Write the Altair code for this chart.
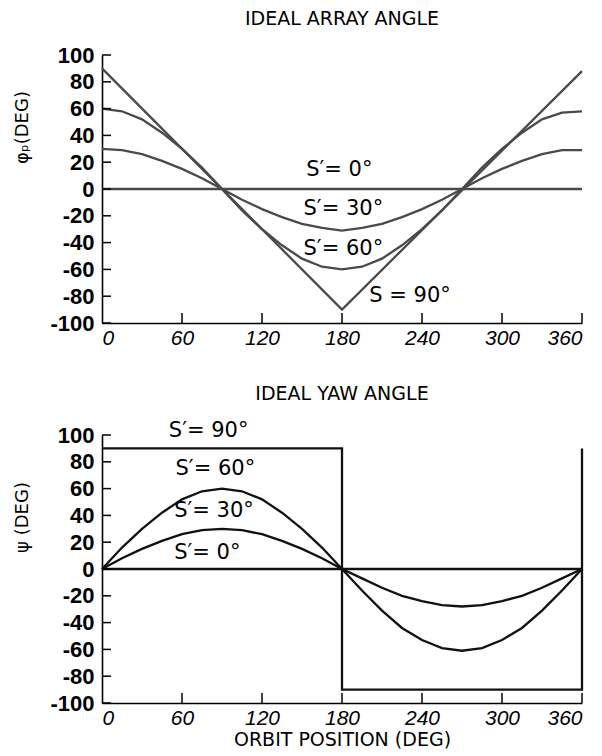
import altair as alt
import pandas as pd

# ---------------- data ----------------
ORBIT = [0, 15, 30, 45, 60, 75, 90, 105, 120, 135, 150, 165, 180,
         195, 210, 225, 240, 255, 270, 285, 300, 315, 330, 345, 360]

ARRAY_S0 = [0, 0, 0, 0, 0, 0, 0, 0, 0, 0, 0, 0, 0,
            0, 0, 0, 0, 0, 0, 0, 0, 0, 0, 0, 0]
ARRAY_S30 = [30, 29, 26, 21, 15, 8, 0, -8, -15, -21, -26, -29, -31,
             -29, -26, -21, -15, -8, 0, 8, 15, 21, 26, 29, 29]
ARRAY_S60 = [60, 58, 52, 42, 30, 16, 0, -16, -30, -42, -52, -58, -60,
             -58, -52, -42, -30, -16, 0, 16, 30, 42, 52, 57, 58]
ARRAY_S90_X = [0, 180, 360]
ARRAY_S90_Y = [90, -90, 88]

YAW_S0 = [0, 0, 0, 0, 0, 0, 0, 0, 0, 0, 0, 0, 0,
          0, 0, 0, 0, 0, 0, 0, 0, 0, 0, 0, 0]
YAW_S30 = [0, 8, 15, 21, 26, 29, 30, 29, 26, 21, 15, 8, 0,
           -7, -14, -20, -24, -27, -28, -27, -24, -20, -14, -7, 0]
YAW_S60 = [0, 16, 30, 42, 52, 58, 60, 58, 52, 42, 30, 16, 0,
           -16, -31, -44, -53, -59, -61, -59, -53, -44, -31, -16, 0]
YAW_S90_X = [0, 180, 180, 360, 360]
YAW_S90_Y = [90, 90, -90, -90, 90]

X_TICKS = [0, 60, 120, 180, 240, 300, 360]
Y_TICKS = [-100, -80, -60, -40, -20, 0, 20, 40, 60, 80, 100]

ARRAY_LABELS = ["S′= 0°", "S′= 30°", "S′= 60°", "S = 90°"]
ARRAY_LABEL_X = [178, 181, 181, 231]
ARRAY_LABEL_Y = [14, -15, -45, -80]

YAW_LABELS = ["S′= 90°", "S′= 60°", "S′= 30°", "S′= 0°"]
YAW_LABEL_X = [80, 85, 84, 79]
YAW_LABEL_Y = [103, 75, 43, 12]

W, H = 480, 268
TITLE_FONT = "DejaVu Sans"
LABEL_FONT = "Liberation Sans"


def series_frame(groups):
    rows = []
    for name, xs, ys in groups:
        for i, (xv, yv) in enumerate(zip(xs, ys)):
            rows.append({"series": name, "i": i, "x": xv, "y": yv})
    return pd.DataFrame(rows)


def panel(title, ytitle, df, labels, lx, ly, color, title_y, show_xtitle, title_offset):
    xscale = alt.Scale(domain=[0, 360], nice=False, zero=False)
    yscale = alt.Scale(domain=[-100, 100], nice=False, zero=False)
    xaxis = alt.Axis(values=X_TICKS, ticks=False, labelPadding=4,
                     labelFontStyle="italic", labelFontWeight="normal",
                     labelFontSize=21, labelOverlap=False,
                     title="ORBIT POSITION (DEG)" if show_xtitle else None,
                     titlePadding=2, titleFontSize=19)
    yaxis = alt.Axis(values=Y_TICKS, ticks=False, labelPadding=8,
                     labelFontSize=22, labelOverlap=False,
                     labelExpr="'' + datum.value",
                     title=ytitle, titleX=-80, titleY=title_y,
                     titleBaseline="middle", titleAngle=270)
    lines = alt.Chart(df).mark_line(color=color, strokeWidth=2.3, clip=False).encode(
        x=alt.X("x:Q", scale=xscale, axis=xaxis),
        y=alt.Y("y:Q", scale=yscale, axis=yaxis),
        detail="series:N",
        order="i:Q",
    )
    ytick = alt.Chart(pd.DataFrame({"v": Y_TICKS})).mark_rule(
        color="black", strokeWidth=1.5).encode(
        y=alt.Y("v:Q", scale=yscale, axis=yaxis), x=alt.value(0), x2=alt.value(9))
    xtick = alt.Chart(pd.DataFrame({"v": X_TICKS[1:]})).mark_rule(
        color="black", strokeWidth=1.5).encode(
        x=alt.X("v:Q", scale=xscale, axis=xaxis), y=alt.value(H), y2=alt.value(H - 10))
    ann = alt.Chart(pd.DataFrame({"t": labels, "x": lx, "y": ly})).mark_text(
        font=TITLE_FONT, fontSize=21, color="black", align="center",
        baseline="middle").encode(
        x=alt.X("x:Q", scale=xscale, axis=xaxis),
        y=alt.Y("y:Q", scale=yscale, axis=yaxis), text="t:N")
    return alt.layer(lines, ytick, xtick, ann).properties(
        width=W, height=H,
        title=alt.TitleParams(title, font=TITLE_FONT, fontSize=19,
                              fontWeight="normal", anchor="middle",
                              frame="group", offset=title_offset, color="black"))


top_df = series_frame([
    ("s0", ORBIT, ARRAY_S0), ("s30", ORBIT, ARRAY_S30),
    ("s60", ORBIT, ARRAY_S60), ("s90", ARRAY_S90_X, ARRAY_S90_Y)])
bot_df = series_frame([
    ("s0", ORBIT, YAW_S0), ("s30", ORBIT, YAW_S30),
    ("s60", ORBIT, YAW_S60), ("s90", YAW_S90_X, YAW_S90_Y)])

top = panel("IDEAL ARRAY ANGLE", "φₚ(DEG)", top_df, ARRAY_LABELS,
            ARRAY_LABEL_X, ARRAY_LABEL_Y, "#4a4a4a", 72, False, 15)
bottom = panel("IDEAL YAW ANGLE", "ψ (DEG)", bot_df, YAW_LABELS,
               YAW_LABEL_X, YAW_LABEL_Y, "#111111", 82, True, 16)

chart = alt.vconcat(top, bottom, spacing=36).properties(
    padding={"left": 5, "top": 2, "right": 5, "bottom": 2}
).configure_view(stroke=None).configure_axis(
    grid=False, domainColor="black", domainWidth=1.6,
    labelFont=LABEL_FONT, labelFontSize=20, labelFontWeight="bold",
    labelColor="black",
    titleFont=TITLE_FONT, titleFontSize=18, titleFontWeight="normal",
    titleColor="black",
)

chart.save("out.html", embed_options={"renderer": "svg", "actions": False})
